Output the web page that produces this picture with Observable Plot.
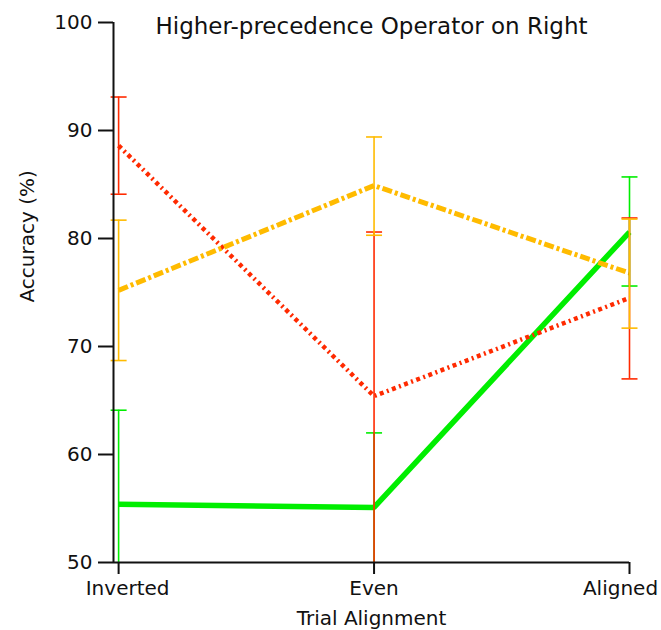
<!DOCTYPE html>
<html>
<head>
<meta charset="utf-8">
<script src="https://cdn.jsdelivr.net/npm/d3@7"></script>
<script src="https://cdn.jsdelivr.net/npm/@observablehq/plot@0.6"></script>
<style>
  html, body { margin: 0; padding: 0; background: #fff; }
  #chart svg { display: block; }
</style>
</head>
<body>
<div id="chart"></div>
<script>
// ---- data ----
const alignments = ["Inverted", "Even", "Aligned"];
const alignPos = [0, 1, 2];

const redMean = [88.6, 65.4, 74.5];
const redLo   = [84.1, 49.8, 67.0];
const redHi   = [93.1, 80.6, 81.9];

const yellowMean = [75.2, 84.9, 76.8];
const yellowLo   = [68.7, 80.3, 71.7];
const yellowHi   = [81.7, 89.4, 81.8];

const greenMean = [55.4, 55.1, 80.6];
const greenLo   = [46.7, 48.2, 75.6];
const greenHi   = [64.1, 62.0, 85.7];

const yTicks = [50, 60, 70, 80, 90, 100];
const title = "Higher-precedence Operator on Right";
const xLabel = "Trial Alignment";
const yLabel = "Accuracy (%)";

// ---- build tables ----
const yMin = 50;
const seriesDefs = [
  {name: "green",  mean: greenMean,  lo: greenLo,  hi: greenHi,  color: "#00ee00", width: 5.5, dash: null},
  {name: "red",    mean: redMean,    lo: redLo,    hi: redHi,    color: "#ff2a00", width: 4.5, dash: "4,3.5,2,3.5"},
  {name: "yellow", mean: yellowMean, lo: yellowLo, hi: yellowHi, color: "#ffbb00", width: 5,   dash: "10,3,3,3"}
];
const rows = s => alignPos.map((x, i) => ({x, label: alignments[i], mean: s.mean[i], lo: s.lo[i], hi: s.hi[i]}));

const capSymbol = {
  draw(context, size) {
    const r = Math.sqrt(size / Math.PI);
    context.moveTo(-r, 0);
    context.lineTo(r, 0);
  }
};

const font = "DejaVu Sans";
const marks = [];

// lines
for (const s of seriesDefs) {
  marks.push(Plot.line(rows(s), {
    x: "x", y: "mean", stroke: s.color, strokeWidth: s.width,
    strokeDasharray: s.dash ?? undefined, strokeLinejoin: "miter", strokeLinecap: "butt"
  }));
}
// error bars (cut at the bottom of the axis)
for (const s of seriesDefs) {
  marks.push(Plot.ruleX(rows(s), {x: "x", y1: d => Math.max(d.lo, yMin), y2: "hi", stroke: s.color, strokeWidth: 1.6}));
  marks.push(Plot.dot(rows(s), {x: "x", y: "hi", symbol: capSymbol, r: 8, stroke: s.color, strokeWidth: 1.6, fill: "none"}));
  marks.push(Plot.dot(rows(s), {filter: d => d.lo >= yMin, x: "x", y: "lo", symbol: capSymbol, r: 8, stroke: s.color, strokeWidth: 1.6, fill: "none"}));
}

// axes lines
marks.push(Plot.ruleY([50], {stroke: "#111", strokeWidth: 2}));
marks.push(Plot.ruleX([-0.02], {stroke: "#111", strokeWidth: 2}));
marks.push(Plot.axisY({ticks: yTicks, tickSize: 15, tickPadding: 6, fontSize: 20, stroke: "#111", strokeWidth: 2, label: null}));
marks.push(Plot.axisX({ticks: alignPos, tickSize: 12, tickFormat: () => "", stroke: "#111", strokeWidth: 2, label: null}));

// x tick labels (slightly shifted at the ends as in the reference)
const labelShift = [9, 0, -9];
alignPos.forEach((p, i) => {
  marks.push(Plot.text([alignments[i]], {
    x: [p], frameAnchor: "bottom", lineAnchor: "top", dy: 18, dx: labelShift[i],
    text: d => d, fontSize: 20, fill: "#111"
  }));
});

// title & axis labels
marks.push(Plot.text([title], {frameAnchor: "top", lineAnchor: "bottom", dy: 11, text: d => d, fontSize: 23, fill: "#111"}));
marks.push(Plot.text([xLabel], {frameAnchor: "bottom", lineAnchor: "bottom", dy: 62, text: d => d, fontSize: 20, fill: "#111"}));
marks.push(Plot.text([yLabel], {frameAnchor: "left", lineAnchor: "bottom", rotate: -90, dx: -80, dy: 10, text: d => d, fontSize: 20, fill: "#111"}));

const chart = Plot.plot({
  width: 661,
  height: 630,
  marginLeft: 113,
  marginRight: 32,
  marginTop: 22,
  marginBottom: 68,
  style: {fontFamily: font, fontSize: "20px", background: "#fff", color: "#111", overflow: "visible"},
  x: {domain: [-0.02, 2], axis: null},
  y: {domain: [50, 100], axis: null},
  marks
});
document.getElementById("chart").appendChild(chart);
</script>
</body>
</html>
